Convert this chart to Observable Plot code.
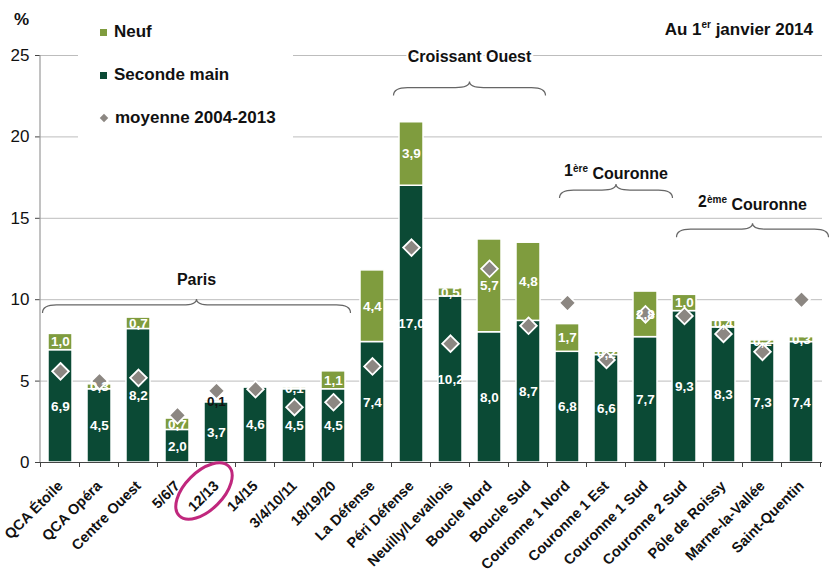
<!DOCTYPE html>
<html>
<head>
<meta charset="utf-8">
<script src="https://cdn.jsdelivr.net/npm/d3@7"></script>
<script src="https://cdn.jsdelivr.net/npm/@observablehq/plot@0.6"></script>
<style>
  body { margin: 0; background: #fff; font-family: "Liberation Sans", Arial, sans-serif; }
  #wrap { position: relative; width: 837px; height: 587px; overflow: hidden; }
  #wrap svg { position: absolute; left: 0; top: 0; }
  .ov { position: absolute; font-weight: bold; color: #111; white-space: nowrap; }
  #legend { position: absolute; left: 78px; top: 12px; width: 215px; height: 130px; background: #fff; }
  .lg { position: absolute; left: 22px; font-size: 17px; font-weight: bold; color: #111; display: flex; align-items: center; }
  .sw { display: inline-block; width: 7px; height: 7px; margin-right: 7px; }
  .dm { display: inline-block; width: 6px; height: 6px; margin: 0 8px 0 1px; transform: rotate(45deg); background: #8c8782; }
</style>
</head>
<body>
<div id="wrap">
  <div id="legend">
    <div class="lg" style="top:10px"><span class="sw" style="background:#7f9c3e"></span>Neuf</div>
    <div class="lg" style="top:53px"><span class="sw" style="background:#0b4a35"></span>Seconde main</div>
    <div class="lg" style="top:96px"><span class="dm"></span>moyenne 2004-2013</div>
  </div>
  <div class="ov" style="left:14px; top:10px; font-size:17px;">%</div>
  <div class="ov" style="right:24px; top:19px; font-size:17px;">Au 1<sup style="font-size:10px">er</sup> janvier 2014</div>
</div>
<script>
const categories = ["QCA Étoile","QCA Opéra","Centre Ouest","5/6/7","12/13","14/15","3/4/10/11","18/19/20","La Défense","Péri Défense","Neuilly/Levallois","Boucle Nord","Boucle Sud","Couronne 1 Nord","Couronne 1 Est","Couronne 1 Sud","Couronne 2 Sud","Pôle de Roissy","Marne-la-Vallée","Saint-Quentin"];
const secondeMain = [6.9,4.5,8.2,2.0,3.7,4.6,4.5,4.5,7.4,17.0,10.2,8.0,8.7,6.8,6.6,7.7,9.3,8.3,7.3,7.4];
const neuf = [1.0,0.3,0.7,0.7,0.1,0.0,0.1,1.1,4.4,3.9,0.5,5.7,4.8,1.7,0.2,2.8,1.0,0.4,0.2,0.3];
const moyenne = [5.6,5.0,5.2,2.9,4.4,4.5,3.4,3.7,5.9,13.2,7.3,11.9,8.4,9.8,6.3,9.1,9.0,7.9,6.8,10.0];
const yTicks = [0,5,10,15,20,25];
// groups: label, first & last category, level of brace and of label (in %)
const groupLabels = [["Paris",""],["Croissant Ouest",""],["1","ère Couronne"],["2","ème Couronne"]];
const groupFrom = ["QCA Étoile","Péri Défense","Couronne 1 Nord","Couronne 2 Sud"];
const groupTo = ["18/19/20","Boucle Sud","Couronne 1 Sud","Saint-Quentin"];
const groupBrace = [9.65,23.0,16.7,14.3];
const groupText = [11.2,24.9,17.9,16.0];

const darkGreen = "#0b4a35", lightGreen = "#7f9c3e", diamondGray = "#8c8782";
const fmt = v => d3.format(".1f")(v).replace(".", ",");

const data = categories.map((c, i) => ({cat: c, sec: secondeMain[i], neuf: neuf[i], avg: moyenne[i]}));
const neufData = data.filter(d => d.neuf > 0);

const plot = Plot.plot({
  width: 837,
  height: 587,
  marginLeft: 40,
  marginRight: 15,
  marginTop: 55,
  marginBottom: 125,
  style: {fontFamily: "Liberation Sans, Arial, sans-serif", fontSize: "15px", color: "#111", background: "transparent"},
  x: {domain: categories, paddingInner: 0.38, paddingOuter: 0.19, label: null},
  y: {domain: [0, 25], label: null},
  marks: [
    Plot.gridY(yTicks, {stroke: "#bdbdbd", strokeOpacity: 1, strokeWidth: 1}),
    Plot.barY(data, {x: "cat", y1: 0, y2: "sec", fill: darkGreen, stroke: "white", strokeWidth: 1.5}),
    Plot.barY(neufData, {x: "cat", y1: "sec", y2: d => d.sec + d.neuf, fill: lightGreen, stroke: "white", strokeWidth: 1.5}),
    Plot.ruleY([0], {stroke: "#444", strokeWidth: 1.2}),
    Plot.dot(data, {x: "cat", y: "avg", symbol: "diamond2", r: 7.5, fill: diamondGray, stroke: "white", strokeWidth: 1.8}),
    Plot.text(data, {x: "cat", y: d => d.sec / 2, text: d => fmt(d.sec), fill: "white", fontWeight: "bold", fontSize: 13.5}),
    Plot.text(neufData, {x: "cat", y: d => d.sec + d.neuf / 2, text: d => fmt(d.neuf), fill: d => d.cat === "12/13" ? "#111" : "white", fontWeight: "bold", fontSize: 13.5}),
    Plot.axisY(yTicks, {tickSize: 5, tickPadding: 6, fontSize: 17, stroke: "#444"}),
    Plot.axisX({tickSize: 0, tickPadding: 21, tickRotate: -45, fontWeight: "bold", fontSize: 14.5})
  ]
});

document.getElementById("wrap").insertBefore(plot, document.getElementById("legend"));

// annotations drawn through the plot's own scales
const sx = plot.scale("x"), sy = plot.scale("y");
const bw = sx.bandwidth;
const step = sx.apply(categories[1]) - sx.apply(categories[0]);
const gap = (step - bw) / 2;
const svg = d3.select(plot);
const ann = svg.append("g");

// y axis line
ann.append("line").attr("x1", 40).attr("x2", 40).attr("y1", sy.apply(0)).attr("y2", sy.apply(25)).attr("stroke", "#999").attr("stroke-width", 1.2);
// x ticks at band boundaries
categories.forEach((c, i) => {
  const xb = sx.apply(c) - gap;
  ann.append("line").attr("x1", xb).attr("x2", xb).attr("y1", sy.apply(0)).attr("y2", sy.apply(0) + 5).attr("stroke", "#444");
});
{
  const xe = sx.apply(categories[categories.length - 1]) + bw + gap;
  ann.append("line").attr("x1", xe).attr("x2", xe).attr("y1", sy.apply(0)).attr("y2", sy.apply(0) + 5).attr("stroke", "#444");
}

function bracePath(x1, x2, y) {
  const m = (x1 + x2) / 2, h = 8, c = 6, r = 14;
  return `M${x1},${y + h} Q${x1},${y} ${x1 + r},${y} L${m - r},${y} Q${m},${y} ${m},${y - c} Q${m},${y} ${m + r},${y} L${x2 - r},${y} Q${x2},${y} ${x2},${y + h}`;
}
groupFrom.forEach((f, i) => {
  const shift = i >= 2 ? 10 : 0;
  const x1 = sx.apply(f) - gap + 2 + shift;
  const x2 = sx.apply(groupTo[i]) + bw + gap - 2 + shift;
  const yb = sy.apply(groupBrace[i]);
  ann.append("path").attr("d", bracePath(x1, x2, yb)).attr("fill", "none").attr("stroke", "#666").attr("stroke-width", 1.2);
  const t = ann.append("text").attr("x", (x1 + x2) / 2).attr("y", sy.apply(groupText[i])).attr("text-anchor", "middle")
    .attr("dy", "0.35em").attr("font-weight", "bold").attr("font-size", 16).attr("fill", "#111")
    .attr("stroke", "white").attr("stroke-width", 4).attr("paint-order", "stroke");
  const [a, b] = groupLabels[i];
  if (b) {
    t.append("tspan").text(a);
    t.append("tspan").attr("dy", "-0.45em").attr("font-size", 10).text(b.slice(0, b.indexOf(" ")));
    t.append("tspan").attr("dy", "0.45em").text(b.slice(b.indexOf(" ")));
  } else {
    t.text(a);
  }
});

// highlight ellipse around the 12/13 label
{
  const cx = sx.apply("12/13") + bw / 2 - 12;
  const cy = sy.apply(0) + 29;
  ann.append("ellipse").attr("cx", cx).attr("cy", cy).attr("rx", 35).attr("ry", 19)
    .attr("transform", `rotate(-45 ${cx} ${cy})`).attr("fill", "none").attr("stroke", "#c0277d").attr("stroke-width", 3);
}
</script>
</body>
</html>
